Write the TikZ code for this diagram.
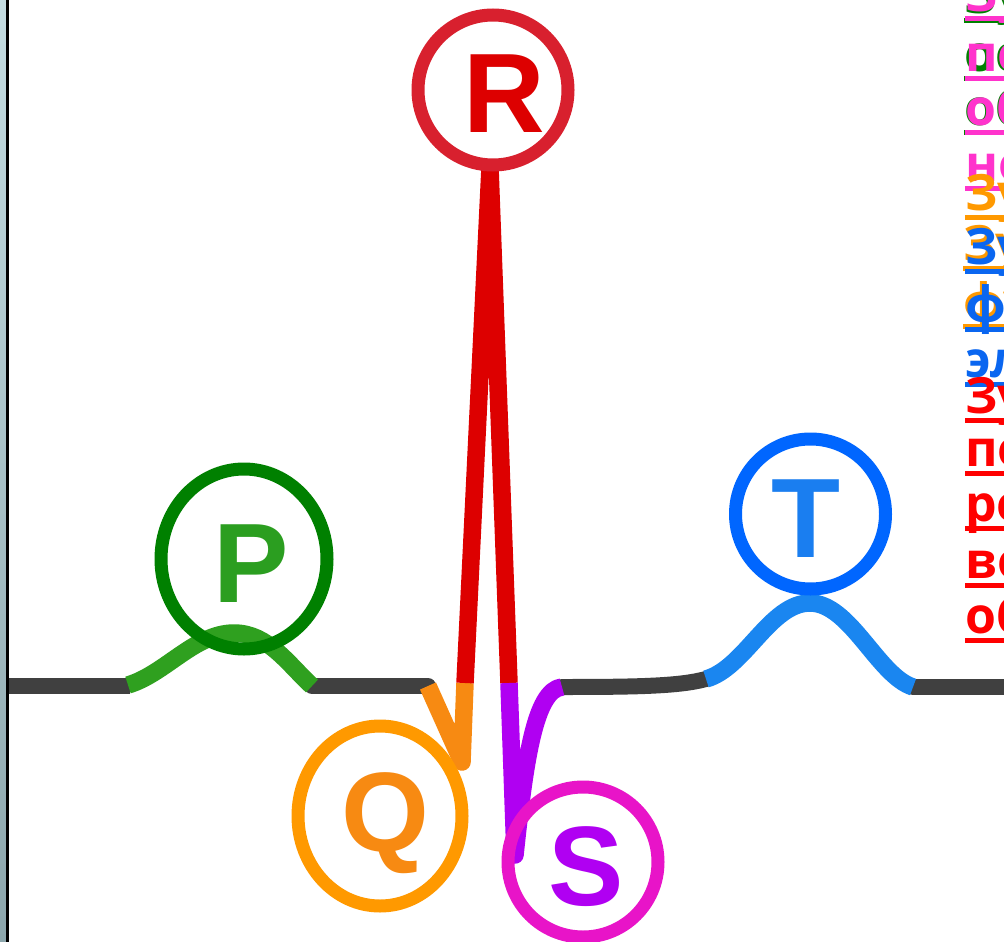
\documentclass[tikz,border=0pt]{standalone}
\usepackage{fontspec}
\newfontfamily\letterfont{Liberation Sans}
\newfontfamily\sidefont{Open Sans}
\definecolor{ecgdark}{HTML}{404040}
\definecolor{pwave}{HTML}{2FA01F}
\definecolor{pring}{HTML}{008000}
\definecolor{pletter}{HTML}{2B9E20}
\definecolor{rwave}{HTML}{DD0000}
\definecolor{rring}{HTML}{D8202E}
\definecolor{qwave}{HTML}{F78A12}
\definecolor{qring}{HTML}{FF9900}
\definecolor{swave}{HTML}{B000F2}
\definecolor{sring}{HTML}{E814C8}
\definecolor{twave}{HTML}{1A86F0}
\definecolor{tring}{HTML}{0066FF}
\definecolor{tletter}{HTML}{1A7EF0}
\definecolor{stripTop}{HTML}{C4DCE1}
\definecolor{stripBot}{HTML}{8CA6AC}
\definecolor{txtpink}{HTML}{FF33CC}
\definecolor{txtgreen}{HTML}{008000}
\definecolor{txtorange}{HTML}{FF9900}
\definecolor{txtblue}{HTML}{0A66F0}
\definecolor{txtred}{HTML}{FF0000}
\tikzset{
  wave/.style={line width=17.5pt, line join=round, line cap=butt},
  darkline/.style={line width=16pt, draw=ecgdark, line cap=round, line join=round},
  ring/.style={line width=13pt},
  letter/.style={font=\letterfont\bfseries\fontsize{113}{113}\selectfont, anchor=base, inner sep=0pt},
  sidetext/.style={font=\sidefont\bfseries\fontsize{50}{50}\selectfont, anchor=base west, inner sep=0pt},
  uline/.style={line width=5pt}
}
\begin{document}
\begin{tikzpicture}[x=1pt,y=-1pt]
\useasboundingbox (0,0) rectangle (1004,942);
\clip (0,0) rectangle (1004,942);
\fill[white] (0,0) rectangle (1004,942);
% left strip
\shade[top color=stripTop, bottom color=stripBot] (0,0) rectangle (6,942);
\fill[black] (6,0) rectangle (9,942);
% baseline pieces
\draw[darkline, line cap=butt] (9,686) -- (130,686);
\draw[darkline] (312,686) -- (428,686);
\draw[darkline] (562,687) .. controls (640,687) and (680,686) .. (706,679);
\draw[darkline] (913,687) -- (1012,687);
% waves
\draw[wave, draw=pwave] (128,685) .. controls (165,674) and (195,633) .. (234,633) .. controls (268,633) and (288,664) .. (312,686);
\draw[wave, draw=qwave] (428,686) -- (462,762) -- (465,683);
\draw[wave, draw=rwave] (465,683) -- (490,168) -- (509,683);
\draw[wave, draw=swave] (509,683) -- (515,855) .. controls (525,760) and (535,690) .. (562,687);
\draw[wave, draw=twave] (706,679) .. controls (745,668) and (770,603) .. (810,603) .. controls (850,603) and (878,676) .. (913,687);
% rings
\draw[ring, draw=pring] (244,559) ellipse [x radius=83, y radius=90];
\draw[ring, draw=rring] (493,90) circle [radius=75];
\draw[ring, draw=qring] (380,816) ellipse [x radius=82, y radius=90];
\draw[ring, draw=sring] (583,862) circle [radius=75];
\draw[ring, draw=tring] (810.5,514) circle [radius=75];
% letters
\node[letter, text=pletter] (P) at (251,602) {P};
\node[letter, text=rwave] (R) at (504,132) {R};
\node[letter, text=qwave] (Q) at (385,851) {Q};
\node[letter, text=swave] (S) at (586,905) {S};
\node[letter, text=tletter] (T) at (806,557) {T};
% right text (cut at the edge)
\foreach \n/\t/\y/\c/\dx in {
  g1/Зу/14/txtgreen/-1, g2/ос/72/txtgreen/-1, g3/об/125/txtgreen/-1,
  p1/Зу/12/txtpink/0, p2/пе/72/txtpink/0, p3/об/125/txtpink/0, p4/но/181/txtpink/0,
  o1/Зу/210/txtorange/0, o2/Зу/261/txtorange/-2, o3/фу/319/txtorange/-2,
  b1/Зу/264/txtblue/0, b2/фи/322/txtblue/0, b3/эл/377/txtblue/0,
  r1/Зу/413/txtred/0, r2/по/466/txtred/0, r3/ре/521/txtred/0, r4/во/578/txtred/0, r5/об/633/txtred/0}{
  \node[sidetext, text=\c] (\n) at (965+\dx,\y) {\t};
  \draw[uline, draw=\c] ([yshift=-7pt]\n.base west) -- ++(60,0);
}
\end{tikzpicture}
\end{document}
